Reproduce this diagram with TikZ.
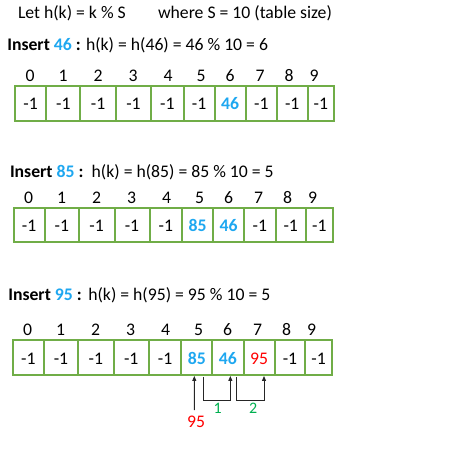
\documentclass[tikz,border=0pt]{standalone}
\usepackage{fontspec}
\setmainfont{Carlito}
\usetikzlibrary{arrows.meta}
\definecolor{cellgreen}{HTML}{70AD47}
\definecolor{keyblue}{HTML}{1EA7F0}
\definecolor{probered}{HTML}{FF0000}
\definecolor{stepgreen}{HTML}{00B050}
\newcommand\hashrow[5]{%
  \foreach \i/\ix in {0/15,1/48,2/83,3/118,4/153,5/186,6/215,7/245,8/274,9/299}{
    \node[idx] (#1i\i) at ({#2+\ix},#4) {\i};
  }
  \foreach \i/\a/\b/\v/\st in {#5}{
    \pgfmathsetmacro\w{\b-\a}
    \node[cell,\st,minimum width=\w pt] (#1c\i) at ({#2+(\a+\b)/2},#3) {\v};
  }
}
\begin{document}
\begin{tikzpicture}[x=1pt,y=-1pt,
  every node/.style={font=\fontsize{17.7}{21}\selectfont, inner sep=0pt, outer sep=0pt},
  cell/.style={draw=cellgreen, line width=2pt, minimum height=34.5pt, text height=13pt, text depth=0pt, anchor=center},
  idx/.style={anchor=base},
  txt/.style={anchor=base west},
  nv/.style={},
  bv/.style={text=keyblue, font=\fontsize{17.7}{21}\selectfont\bfseries},
  rv/.style={text=probered},
  arr/.style={draw=black!85, line width=0.9pt, -{Triangle[length=5pt,width=4pt]}, shorten >=1.2pt}
]
\useasboundingbox (0,0) rectangle (459,455);

\node[txt] (defn) at (18,18.3) {Let h(k) = k \% S};
\node[txt] (size) at (158,18.3) {where S = 10 (table size)};

% Row 1
\node[txt] (ins1) at (7.3,50) {\textbf{Insert \textcolor{keyblue}{46} :}};
\node[txt] (eq1) at (86,50) {h(k) = h(46) = 46 \% 10 = 6};
\hashrow{ra}{15}{103.25}{81.3}{0/0/31.3/-1/nv, 1/31.3/65.3/-1/nv, 2/65.3/101/-1/nv, 3/101/136/-1/nv, 4/136/168.7/-1/nv, 5/168.7/199.5/-1/nv, 6/199.5/230.8/46/bv, 7/230.8/262/-1/nv, 8/262/292.5/-1/nv, 9/292.5/319.2/-1/nv}

% Row 2
\node[txt] (ins2) at (10,177.3) {\textbf{Insert \textcolor{keyblue}{85} :}};
\node[txt] (eq2) at (91.7,177.3) {h(k) = h(85) = 85 \% 10 = 5};
\hashrow{rb}{13.5}{224.85}{204}{0/0/31.3/-1/nv, 1/31.3/65.3/-1/nv, 2/65.3/101/-1/nv, 3/101/136/-1/nv, 4/136/168.7/-1/nv, 5/168.7/199.5/85/bv, 6/199.5/230.8/46/bv, 7/230.8/262/-1/nv, 8/262/292.5/-1/nv, 9/292.5/319.2/-1/nv}

% Row 3
\node[txt] (ins3) at (8.3,300.7) {\textbf{Insert \textcolor{keyblue}{95} :}};
\node[txt] (eq3) at (88.3,300.7) {h(k) = h(95) = 95 \% 10 = 5};
\hashrow{rc}{12.7}{357.5}{335}{0/0/31.3/-1/nv, 1/31.3/65.3/-1/nv, 2/65.3/101/-1/nv, 3/101/136/-1/nv, 4/136/168.7/-1/nv, 5/168.7/199.5/85/bv, 6/199.5/230.8/46/bv, 7/230.8/262/95/rv, 8/262/292.5/-1/nv, 9/292.5/319.2/-1/nv}

% probing
\node[anchor=base, text=probered] (lab95) at (196,427.7) {95};
\node[anchor=base, text=stepgreen, font=\fontsize{16}{19}\selectfont] (step1) at (217.7,413.3) {1};
\node[anchor=base, text=stepgreen, font=\fontsize{16}{19}\selectfont] (step2) at (253.3,413.3) {2};

\draw[arr] ([xshift=-1.7pt,yshift=6pt]lab95.north) -- ([xshift=-2.5pt]rcc5.south);
\draw[arr] ([xshift=-8.9pt,yshift=-2pt]rcc5.south east) -- ++(0,23.5) -| ([xshift=2.5pt]rcc6.south);
\draw[arr] ([xshift=-6.8pt,yshift=-2pt]rcc6.south east) -- ++(0,23.5) -| ([xshift=4.9pt]rcc7.south);
\end{tikzpicture}
\end{document}
